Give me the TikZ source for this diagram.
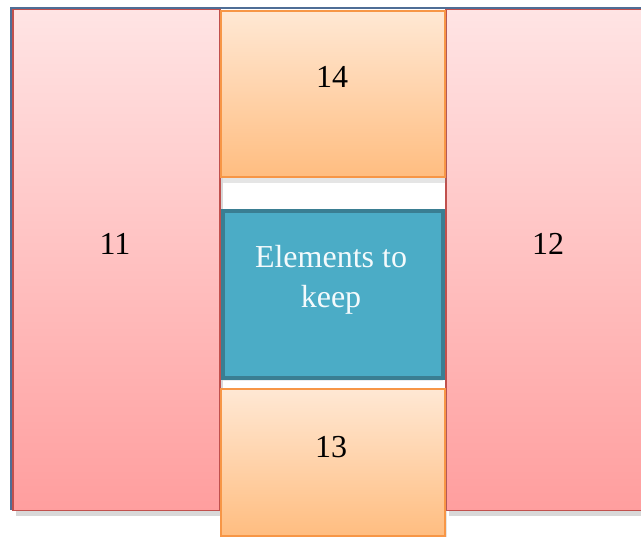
\documentclass[tikz,border=0pt]{standalone}
\usepackage{fontspec}
\setmainfont{Liberation Serif}
\usetikzlibrary{shadows}

\definecolor{pinkline}{RGB}{192,80,77}
\definecolor{pinktop}{RGB}{255,228,228}
\definecolor{pinkbot}{RGB}{255,158,158}
\definecolor{orangeline}{RGB}{247,150,70}
\definecolor{orangetop}{RGB}{255,232,212}
\definecolor{orangebot}{RGB}{255,189,128}
\definecolor{keepfill}{RGB}{75,172,198}
\definecolor{keepline}{RGB}{58,126,146}
\definecolor{frameblue}{RGB}{79,110,150}

\begin{document}
\begin{tikzpicture}[
    x = 1pt, y = -1pt, % pixel grid, y downwards
    box/.style = {rectangle, draw, inner sep = 0pt, anchor = north west},
    sidebox/.style = {box, line width = 1.5pt, draw = pinkline,
        top color = pinktop, bottom color = pinkbot,
        drop shadow = {shadow xshift = 3pt, shadow yshift = -5pt, opacity = 0.3}},
    capbox/.style = {box, line width = 2pt, draw = orangeline,
        top color = orangetop, bottom color = orangebot,
        drop shadow = {shadow xshift = 2pt, shadow yshift = -6pt, opacity = 0.2}},
    keepbox/.style = {box, line width = 4pt, draw = keepline, fill = keepfill,
        drop shadow = {shadow xshift = 0pt, shadow yshift = -3pt, opacity = 0.15}},
    lbl/.style = {font = \fontsize{32}{40}\selectfont, align = center}
    ]

    \clip (0,0) rectangle (641,537);
    \fill[white] (0,0) rectangle (641,537);

    % thin frame behind the blocks
    \draw[frameblue, line width = 1.2pt] (11,510) -- (11,8) -- (641,8);

    % side blocks
    \node[sidebox, minimum width = 207pt, minimum height = 501pt] (b11) at (12,9) {};
    \node[sidebox, minimum width = 230pt, minimum height = 501pt] (b12) at (445,9) {};

    % top and bottom blocks
    \node[capbox, minimum width = 224pt, minimum height = 166pt] (b14) at (220,10) {};
    \node[capbox, minimum width = 224pt, minimum height = 147pt] (b13) at (220,388) {};

    % middle block
    \node[keepbox, minimum width = 220pt, minimum height = 167pt] (keep) at (221,209) {};

    % labels
    \node[lbl] (t11) at (115,244) {11};
    \node[lbl] (t12) at (548,244) {12};
    \node[lbl] (t14) at (332,77) {14};
    \node[lbl] (t13) at (331,447) {13};
    \node[lbl, text = white!94!keepfill] (tkeep) at (331,280) {Elements to\\keep};
\end{tikzpicture}
\end{document}
